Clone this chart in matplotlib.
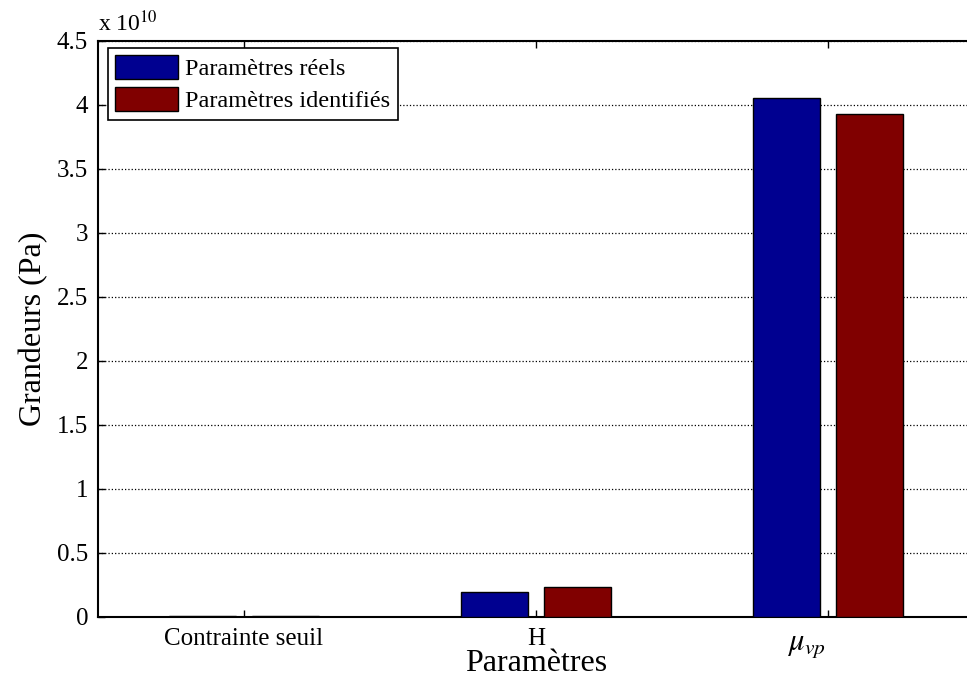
import matplotlib
matplotlib.use('Agg')
import matplotlib.pyplot as plt
import matplotlib.ticker as mticker
import numpy as np

plt.rcParams['font.family'] = ['Liberation Serif', 'DejaVu Serif']
plt.rcParams['mathtext.fontset'] = 'stix'

# data (Pa)
categories = ['Contrainte seuil', 'H', '']
reels = [1.0e8, 1.95e9, 4.055e10]
identifies = [1.0e8, 2.34e9, 3.93e10]
yticks = np.arange(0, 4.51e10, 0.5e10)

fig = plt.figure(figsize=(9.67, 6.85), dpi=100)
# right edge of the axes is just past the figure edge in the original
ax = fig.add_axes([0.1013, 0.0993, 0.906, 0.8409])

x = np.arange(1, len(categories) + 1)
w = 0.23
ax.bar(x - 0.143, reels, w, color='#000090', edgecolor='black', linewidth=1,
       label='Paramètres réels', zorder=3)
ax.bar(x + 0.143, identifies, w, color='#800000', edgecolor='black', linewidth=1,
       label='Paramètres identifiés', zorder=3)

ax.set_xlim(0.5, 3.5)
ax.set_ylim(0, 4.5e10)
ax.set_xticks(x)
ax.set_xticklabels(categories, fontsize=18)
ax.set_yticks(yticks)
ax.yaxis.set_major_formatter(mticker.FuncFormatter(lambda v, p: '%g' % (v / 1e10)))
ax.tick_params(axis='y', labelsize=18, pad=7)
ax.tick_params(axis='x', pad=8)
ax.tick_params(direction='in', length=5, top=True, right=True, width=1)
ax.grid(axis='y', linestyle=':', color='black', linewidth=0.9, zorder=0)
for s in ax.spines.values():
    s.set_linewidth(1.5)

ax.text(2.925, -0.05, r'$\mu_{vp}$', transform=ax.get_xaxis_transform(),
        fontsize=22, ha='center', va='center')
ax.text(0.0, 1.008, r'x 10$^{10}$', transform=ax.transAxes, fontsize=17,
        ha='left', va='bottom')

ax.set_xlabel('Paramètres', fontsize=23, labelpad=-1)
ax.set_ylabel('Grandeurs (Pa)', fontsize=23, labelpad=6)

leg = ax.legend(loc='upper left', bbox_to_anchor=(0.011, 0.988), fontsize=17.5,
                fancybox=False, framealpha=1, edgecolor='black',
                handlelength=2.6, handleheight=1.1, borderpad=0.3,
                labelspacing=0.3, handletextpad=0.3, borderaxespad=0)
leg.get_frame().set_linewidth(1.2)

fig.savefig('out.png', dpi=100)
